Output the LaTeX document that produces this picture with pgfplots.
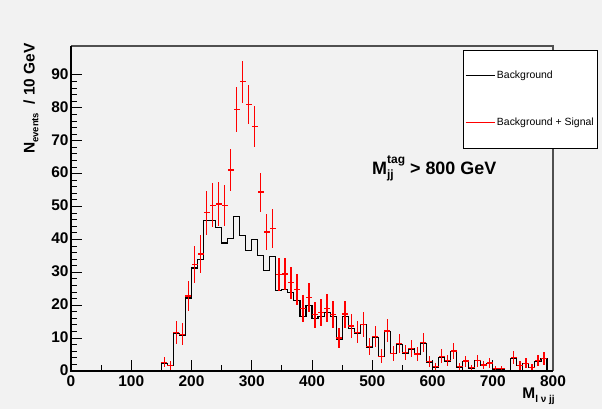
\documentclass[border=0pt]{standalone}
\usepackage{pgfplots}
\pgfplotsset{compat=1.18}
\usepackage{pgfplotstable}
\usepackage{fontspec}
\setmainfont{Liberation Sans}
\definecolor{rootbg}{RGB}{242,242,242}
\definecolor{framegray}{RGB}{80,80,80}
\definecolor{rootred}{RGB}{255,0,0}

% background histogram: bin low edge, content
\pgfplotstableread{
x y
0 0
10 0
20 0
30 0
40 0
50 0
60 0
70 0
80 0
90 0
100 0
110 0
120 0
130 0
140 0
150 2.3
160 1.7
170 11.5
180 10.7
190 22.2
200 31.3
210 33.8
220 45.7
230 45.7
240 43.7
250 38.9
260 40.3
270 46.9
280 41.2
290 36.6
300 40.0
310 35.0
320 30.6
330 34.7
340 24.4
350 24.9
360 23.9
370 21.4
380 16.5
390 19.8
400 15.9
410 16.6
420 17.8
430 16.6
440 9.6
450 16.7
460 13.0
470 11.5
480 14.0
490 7.2
500 10.1
510 4.4
520 12.1
530 5.3
540 8.1
550 5.2
560 6.7
570 4.9
580 8.3
590 2.6
600 1.1
610 4.2
620 3.0
630 5.9
640 1.2
650 2.9
660 0.9
670 3.1
680 1.7
690 2.2
700 0.6
710 0.6
720 0
730 3.9
740 1.7
750 2.3
760 1.0
770 2.9
780 3.8
790 0
800 0
}\bkg

% background + signal: bin centre, content, error
\pgfplotstableread{
x y ey
155 2.6 1.52
165 1.7 1.30
175 11.7 3.39
185 11.2 3.27
195 22.8 4.71
205 32.3 5.59
215 35.6 5.81
225 48.1 6.76
235 50.4 6.76
245 50.8 6.61
255 50.3 6.24
265 61.1 6.35
275 79.4 6.85
285 87.9 6.42
295 81.0 6.05
305 74.3 6.32
315 54.4 5.92
325 42.3 5.53
335 43.4 5.89
345 29.3 4.94
355 29.5 4.99
365 26.8 4.89
375 24.8 4.63
385 19.1 4.06
395 22.3 4.45
405 17.1 3.99
415 17.8 4.07
425 19.1 4.22
435 17.2 4.07
445 10.0 3.10
455 17.3 4.09
465 13.7 3.61
475 11.8 3.39
485 14.1 3.74
495 7.4 2.68
505 10.4 3.18
515 4.5 2.10
525 12.2 3.48
535 5.4 2.30
545 8.3 2.85
555 5.6 2.28
565 6.9 2.59
575 5.2 2.21
585 8.6 2.88
595 2.8 1.61
605 1.3 1.05
615 4.5 2.05
625 3.1 1.73
635 6.1 2.43
645 1.3 1.10
655 3.0 1.70
665 1.0 0.95
675 3.1 1.76
685 1.8 1.30
695 2.4 1.48
705 0.8 0.77
715 0.7 0.77
735 4.2 1.97
745 1.7 1.30
755 2.3 1.52
765 1.0 1.00
775 3.1 1.70
785 3.9 1.95
}\sig

\begin{document}
\begin{tikzpicture}
\useasboundingbox (0,0) rectangle (602bp,409bp);
\fill[rootbg] (0,0) rectangle (602bp,409bp);
\begin{axis}[
    at={(71bp,38bp)}, anchor=south west,
    scale only axis, width=482bp, height=325bp,
    xmin=0, xmax=800, ymin=0, ymax=98.8,
    xtick={0,100,...,800}, minor x tick num=1,
    ytick={0,10,...,90}, minor y tick num=4,
    xtick pos=left, ytick pos=left,
    tick align=inside,
    major tick length=11bp, minor tick length=6bp,
    tick style={black, line width=0.9bp},
    axis line style={draw=none},
    /pgf/number format/assume math mode=true,
    tick label style={font=\fontsize{15.5}{17}\selectfont\bfseries},
    xticklabel style={yshift=-1bp},
    yticklabel style={xshift=1bp, yshift=1bp},
    clip=false,
    ylabel={N\raisebox{-0.45ex}{\fontsize{9.5}{10}\selectfont events}\ \ / 10 GeV},
    ylabel style={font=\fontsize{15.5}{17}\selectfont\bfseries,
        at={(axis description cs:-0.083,1.009)}, anchor=east, inner sep=0pt},
    xlabel={M\raisebox{-0.6ex}{\fontsize{10}{11}\selectfont l ν jj}},
    xlabel style={font=\fontsize{15.5}{17}\selectfont\bfseries,
        at={(axis description cs:1.004,-0.05)}, anchor=north east, inner sep=0pt},
    legend style={at={(axis description cs:0.813,0.988)}, anchor=north west,
        draw=black, fill=white, line width=0.6bp,
        font=\fontsize{10.5}{12}\selectfont,
        inner xsep=2bp, inner ysep=19bp, row sep=34bp,
        /tikz/every even column/.append style={column sep=30bp}},
    legend cell align=left,
]
\addlegendimage{legend image code/.code={\draw[black, line width=0.8bp] (0bp,0bp) -- (29bp,0bp);}}
\addlegendentry{Background}
\addlegendimage{legend image code/.code={\draw[rootred, line width=0.8bp] (0bp,0bp) -- (29bp,0bp);}}
\addlegendentry{Background + Signal}

\addplot[const plot mark left, black, line width=1.1bp, forget plot]
    table[x=x, y=y] {\bkg};

% horizontal bar = bin width (mark), vertical bar = error
\addplot[rootred, only marks, mark=-, mark size=3bp,
    mark options={draw=rootred, line width=1.3bp}, forget plot,
    error bars/.cd, y dir=both, y explicit,
    error mark=none, error bar style={draw=rootred, line width=1.3bp}]
    table[x=x, y=y, y error=ey] {\sig};

\draw[framegray, line width=1.3bp] (rel axis cs:0,1) -- (rel axis cs:1,1) -- (rel axis cs:1,0);
\draw[black, line width=1.5bp] (rel axis cs:0,1) -- (rel axis cs:0,0) -- (rel axis cs:1,0);

\node[anchor=base west, inner sep=0pt, font=\fontsize{18}{21}\selectfont\bfseries]
    at (axis description cs:0.6245,0.606)
    {M\rlap{\raisebox{-0.5ex}{\fontsize{12}{13}\selectfont jj}}\raisebox{1.1ex}{\fontsize{12}{13}\selectfont tag} > 800 GeV};
\end{axis}
\end{tikzpicture}
\end{document}
